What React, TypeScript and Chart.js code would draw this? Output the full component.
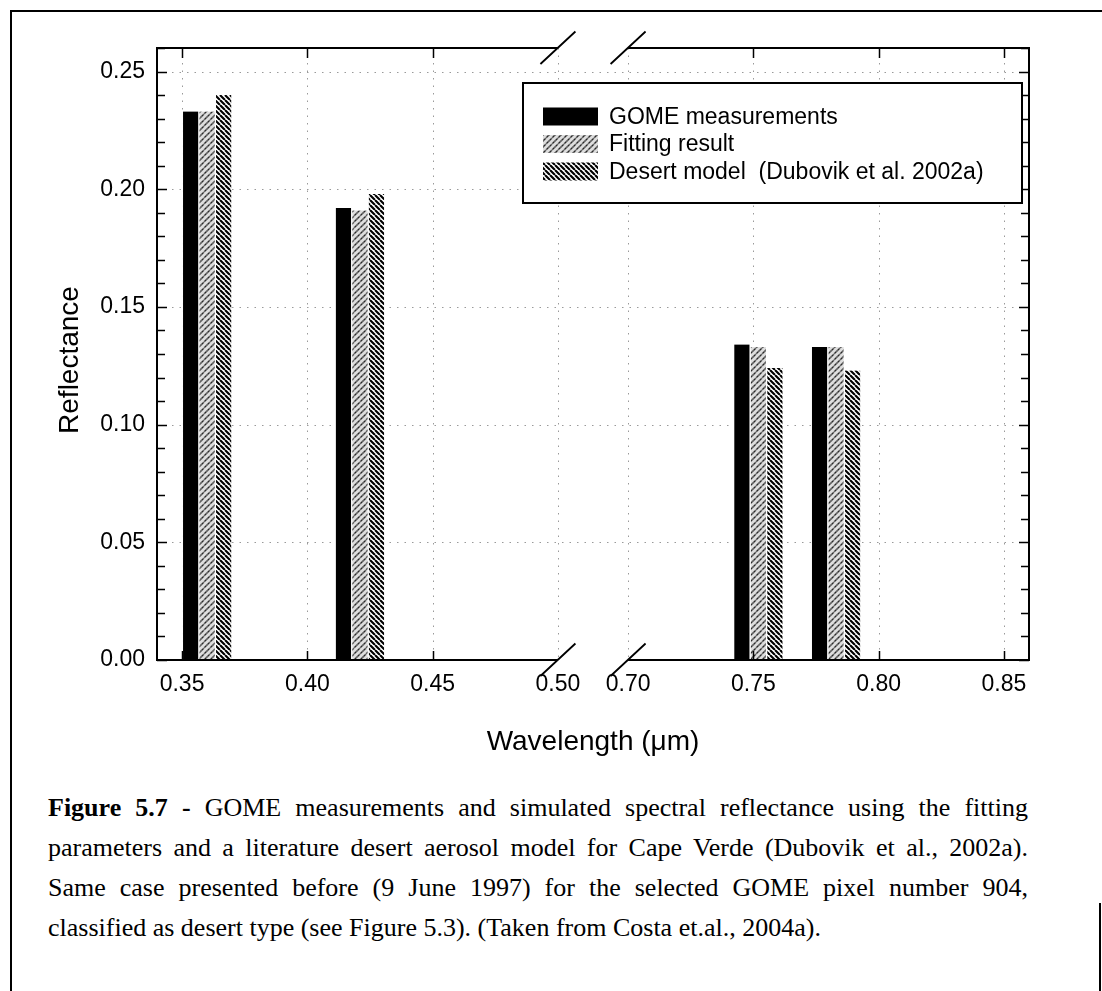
import { useEffect, useRef } from 'react';
import { Chart, registerables } from 'chart.js';

Chart.register(...registerables);

// ---- data -------------------------------------------------------------
const SERIES_NAMES = ['GOME measurements', 'Fitting result', 'Desert model  (Dubovik et al. 2002a)'];
const WAVELENGTHS = [0.36, 0.421, 0.752, 0.783]; // band centres, µm
const GOME = [0.233, 0.192, 0.134, 0.133];
const FITTING = [0.233, 0.191, 0.133, 0.133];
const DESERT = [0.240, 0.198, 0.124, 0.123];

const X_TICKS = [0.35, 0.40, 0.45, 0.50, 0.70, 0.75, 0.80, 0.85];
const X_TICK_LABELS = ['0.35', '0.40', '0.45', '0.50', '0.70', '0.75', '0.80', '0.85'];
const Y_TICKS = [0, 0.05, 0.10, 0.15, 0.20, 0.25];
const Y_TICK_LABELS = ['0.00', '0.05', '0.10', '0.15', '0.20', '0.25'];

// ---- broken wavelength axis: 0.34–0.50 | 0.70–0.86 ----------------------
const X_MIN = 0.34;
const X_MAX = 0.86;
const Y_MIN = 0;
const Y_MAX = 0.26;
const BREAK_LO = 0.5;
const BREAK_HI = 0.7;
const BREAK_GAP = 0.028;
const toAxis = (w: number) => (w <= BREAK_LO ? w : w - (BREAK_HI - BREAK_LO) + BREAK_GAP);

const SANS = "'Liberation Sans', Arial, Helvetica, sans-serif";

function makePattern(size: number, draw: (c: CanvasRenderingContext2D, s: number) => void) {
  const tile = document.createElement('canvas');
  tile.width = size;
  tile.height = size;
  const c = tile.getContext('2d')!;
  draw(c, size);
  return c.createPattern(tile, 'repeat')!;
}

function hatch(c: CanvasRenderingContext2D, s: number, forward: boolean) {
  c.beginPath();
  for (let k = -1; k <= 1; k++) {
    if (forward) {
      c.moveTo(k * s, s);
      c.lineTo(k * s + s, 0);
    } else {
      c.moveTo(k * s, 0);
      c.lineTo(k * s + s, s);
    }
  }
  c.stroke();
}

export default function App() {
  const ref = useRef<HTMLCanvasElement>(null);

  useEffect(() => {
    const canvas = ref.current!;

    const fitFill = makePattern(6, (c, s) => {
      c.fillStyle = '#dedede';
      c.fillRect(0, 0, s, s);
      c.strokeStyle = '#626262';
      c.lineWidth = 1.6;
      hatch(c, s, true);
      c.fillStyle = '#2a2a2a';
      c.fillRect(1, 4, 1, 1);
      c.fillRect(4, 1, 1, 1);
    });
    const desertFill = makePattern(5, (c, s) => {
      c.fillStyle = '#ffffff';
      c.fillRect(0, 0, s, s);
      c.strokeStyle = '#000000';
      c.lineWidth = 2.1;
      hatch(c, s, false);
    });
    const fills: (string | CanvasPattern)[] = ['#000000', fitFill, desertFill];
    const values = [GOME, FITTING, DESERT];

    const framePlugin = {
      id: 'brokenFrame',
      beforeDatasetsDraw(chart: any) {
        const { ctx, chartArea: a, scales } = chart;
        const xs = scales.x;
        const ys = scales.y;
        ctx.save();
        ctx.strokeStyle = '#9a9a9a';
        ctx.lineWidth = 1;
        ctx.setLineDash([1.5, 6]);
        for (const v of Y_TICKS.slice(1)) {
          const y = Math.round(ys.getPixelForValue(v)) + 0.5;
          ctx.beginPath();
          ctx.moveTo(a.left, y);
          ctx.lineTo(a.right, y);
          ctx.stroke();
        }
        for (const w of X_TICKS) {
          const x = Math.round(xs.getPixelForValue(toAxis(w))) + 0.5;
          ctx.beginPath();
          ctx.moveTo(x, a.top);
          ctx.lineTo(x, a.bottom);
          ctx.stroke();
        }
        ctx.restore();
      },
      afterDraw(chart: any) {
        const { ctx, chartArea: a, scales } = chart;
        const xs = scales.x;
        const ys = scales.y;
        const bLo = xs.getPixelForValue(toAxis(BREAK_LO));
        const bHi = xs.getPixelForValue(toAxis(BREAK_HI) + 1e-9);
        ctx.save();
        ctx.strokeStyle = '#000';
        ctx.lineCap = 'butt';

        // axis lines, interrupted at the break
        ctx.lineWidth = 2;
        ctx.beginPath();
        for (const y of [a.top, a.bottom]) {
          ctx.moveTo(a.left - 1, y);
          ctx.lineTo(bLo, y);
          ctx.moveTo(bHi, y);
          ctx.lineTo(a.right + 1, y);
        }
        ctx.moveTo(a.left, a.top);
        ctx.lineTo(a.left, a.bottom);
        ctx.moveTo(a.right, a.top);
        ctx.lineTo(a.right, a.bottom);
        ctx.stroke();

        // break marks
        ctx.lineWidth = 1.8;
        ctx.beginPath();
        for (const y of [a.top, a.bottom]) {
          for (const x of [bLo, bHi]) {
            ctx.moveTo(x - 17.5, y + 16);
            ctx.lineTo(x + 17.5, y - 16.5);
          }
        }
        ctx.stroke();

        // inward tick marks
        ctx.lineWidth = 1.5;
        ctx.beginPath();
        for (const w of X_TICKS) {
          if (w === BREAK_LO || w === BREAK_HI) continue;
          const x = Math.round(xs.getPixelForValue(toAxis(w))) + 0.5;
          ctx.moveTo(x, a.bottom);
          ctx.lineTo(x, a.bottom - 9);
          ctx.moveTo(x, a.top);
          ctx.lineTo(x, a.top + 10);
        }
        for (let i = 0; i <= 26; i++) {
          const v = i / 100;
          const y = Math.round(ys.getPixelForValue(v)) + 0.5;
          const len = i % 5 === 0 ? 10 : 8;
          ctx.moveTo(a.left, y);
          ctx.lineTo(a.left + len, y);
          ctx.moveTo(a.right, y);
          ctx.lineTo(a.right - len, y);
        }
        ctx.stroke();

        // axis titles
        ctx.fillStyle = '#000';
        ctx.font = `28px ${SANS}`;
        ctx.textAlign = 'center';
        ctx.textBaseline = 'alphabetic';
        ctx.fillText('Wavelength (\u03bcm)', (a.left + a.right) / 2, 750);
        ctx.save();
        ctx.translate(78, 360);
        ctx.rotate(-Math.PI / 2);
        ctx.fillText('Reflectance', 0, 0);
        ctx.restore();

        // legend box
        const lx = 523;
        const ly = 83;
        ctx.fillStyle = '#fff';
        ctx.fillRect(lx, ly, 499, 120);
        ctx.lineWidth = 2;
        ctx.strokeRect(lx, ly, 499, 120);
        ctx.font = `23px ${SANS}`;
        ctx.textAlign = 'left';
        SERIES_NAMES.forEach((name, i) => {
          const base = 123.5 + i * 27.5;
          ctx.fillStyle = fills[i];
          ctx.fillRect(543, base - 16, 55, 18);
          ctx.fillStyle = '#000';
          ctx.fillText(name, 609, base);
        });
        ctx.restore();
      },
    };

    const chart = new Chart(canvas, {
      type: 'bar',
      data: {
        datasets: SERIES_NAMES.map((name, s) => ({
          label: name,
          data: WAVELENGTHS.map((w, i) => ({ x: toAxis(w), y: values[s][i] })),
          backgroundColor: fills[s],
          borderColor: '#ffffff',
          borderWidth: { left: 1, right: 1, top: 0, bottom: 0 },
          borderSkipped: false,
          barThickness: 16.5,
        })),
      },
      options: {
        responsive: false,
        maintainAspectRatio: false,
        devicePixelRatio: 1,
        animation: false,
        events: [],
        layout: { padding: { left: 0, top: 48, right: 73, bottom: 70 } },
        plugins: {
          legend: { display: false },
          title: { display: false },
          tooltip: { enabled: false },
        },
        scales: {
          x: {
            type: 'linear',
            min: toAxis(X_MIN),
            max: toAxis(X_MAX),
            offset: false,
            grid: { display: false, drawTicks: false },
            border: { display: false },
            afterBuildTicks: (s: any) => {
              s.ticks = X_TICKS.map((w) => ({ value: toAxis(w) }));
            },
            afterFit: (s: any) => {
              s.height = 50;
            },
            ticks: {
              autoSkip: false,
              maxRotation: 0,
              padding: 11,
              color: '#000',
              font: { family: SANS, size: 23 },
              callback: (_v: any, i: number) => X_TICK_LABELS[i],
            },
          },
          y: {
            type: 'linear',
            min: Y_MIN,
            max: Y_MAX,
            grid: { display: false, drawTicks: false },
            border: { display: false },
            afterBuildTicks: (s: any) => {
              s.ticks = Y_TICKS.map((v) => ({ value: v }));
            },
            afterFit: (s: any) => {
              s.width = 157;
            },
            ticks: {
              padding: 12,
              color: '#000',
              font: { family: SANS, size: 23 },
              callback: (_v: any, i: number) => Y_TICK_LABELS[i],
            },
          },
        },
      } as any,
      plugins: [framePlugin],
    });
    return () => chart.destroy();
  }, []);

  const justified: any = { textAlign: 'justify', textAlignLast: 'justify' };

  return (
    <div
      style={{
        position: 'absolute',
        left: 0,
        top: 0,
        width: 1102,
        height: 991,
        overflow: 'hidden',
        background: '#fff',
      }}
    >
      <div style={{ position: 'absolute', left: 10, top: 10, width: 1092, height: 2, background: '#000' }} />
      <div style={{ position: 'absolute', left: 10, top: 10, width: 2, height: 981, background: '#000' }} />
      <div style={{ position: 'absolute', left: 1099, top: 903, width: 2, height: 88, background: '#000' }} />
      <canvas
        ref={ref}
        width={1102}
        height={780}
        style={{ position: 'absolute', left: 0, top: 0, width: 1102, height: 780 }}
      />
      <div
        style={{
          position: 'absolute',
          left: 48,
          top: 788,
          width: 980,
          fontFamily: "'Liberation Serif', 'Times New Roman', serif",
          fontSize: 26,
          lineHeight: '40px',
          color: '#000',
        }}
      >
        <div style={justified}>
          <b>Figure 5.7 -</b> GOME measurements and simulated spectral reflectance using the fitting
        </div>
        <div style={justified}>
          parameters and a literature desert aerosol model for Cape Verde (Dubovik et al., 2002a).
        </div>
        <div style={justified}>
          Same case presented before (9 June 1997) for the selected GOME pixel number 904,
        </div>
        <div>classified as desert type (see Figure 5.3). (Taken from Costa et.al., 2004a).</div>
      </div>
    </div>
  );
}
